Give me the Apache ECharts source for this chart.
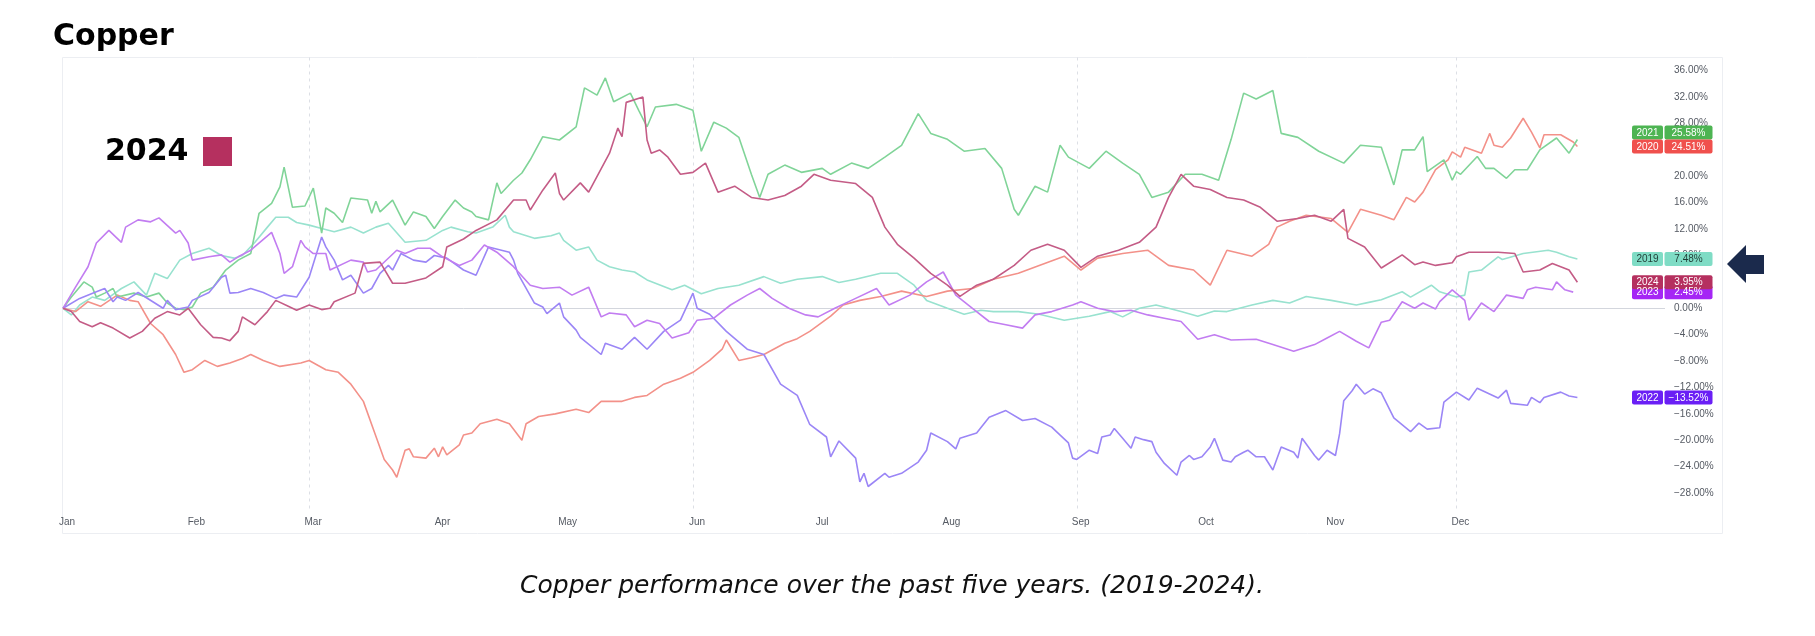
<!DOCTYPE html>
<html><head><meta charset="utf-8">
<script src="https://cdn.jsdelivr.net/npm/echarts@6/dist/echarts.min.js"></script>
<style>html,body{margin:0;padding:0;background:#fff;}#c{width:1815px;height:636px;}</style>
</head><body><div id="c"></div>
<script>
// ---------- DATA ----------
const months = ['Jan','Feb','Mar','Apr','May','Jun','Jul','Aug','Sep','Oct','Nov','Dec'];
const monthStartDays = [0,31,59,90,120,151,181,212,243,273,304,334];
const quarterLineDays = [59,151,243,334];
const years = ['2019','2020','2021','2022','2023','2024'];
// [day of year, % change since Jan 1]
const s2019 = [[0,0],[2,-1],[4,0.5],[7,1.7],[10,1.2],[14,3],[17,4],[20,2],[22,5.3],[25,4.5],[28,7.3],[31,8.3],[35,9.1],[38,8],[41,7.6],[43,8],[46,10],[49,12.3],[51,13.8],[54,13.8],[56,13],[59,12.6],[62,12.1],[65,11.6],[69,12.3],[72,11.4],[75,12.3],[78,12.9],[82,10],[87,10.3],[91,11.8],[93,12.3],[97,11.6],[99,11.4],[103,12.3],[106,14.1],[107,12.3],[108,11.6],[113,10.6],[117,11],[119,11.4],[120,10.3],[123,8.8],[126,9.3],[128,7.3],[131,6.3],[134,5.8],[137,5.5],[140,4.3],[142,3.8],[146,2.8],[149,3.5],[153,2.2],[157,3],[162,3.5],[168,4.8],[172,3.8],[176,4.4],[182,4.8],[186,3.9],[190,4.4],[196,5.3],[200,5.3],[204,3.5],[207,1.2],[212,0],[216,-0.9],[220,-0.3],[223,-0.5],[229,-0.5],[234,-0.9],[240,-1.8],[246,-1.2],[251,-0.5],[254,-1.3],[258,0],[262,0.5],[268,-0.5],[272,-1.2],[276,-0.4],[279,-0.5],[285,0.5],[290,1.2],[294,0.8],[298,1.8],[304,1.2],[310,0.5],[313,0.9],[316,1.3],[321,2.5],[323,1.7],[328,3.5],[330,2.5],[334,1.7],[336,2],[337,5.5],[340,5.8],[344,7.8],[345,7.4],[350,8.3],[356,8.8],[358,8.5],[361,7.8],[363,7.48]];
const s2020 = [[0,0],[3,-0.5],[6,1],[9,0.3],[13,2],[16,1.2],[18,1],[21,-2.3],[24,-4],[27,-7],[29,-9.7],[31,-9.3],[34,-7.9],[37,-8.8],[40,-8.3],[43,-7.6],[45,-7],[48,-7.9],[52,-8.8],[57,-8.3],[59,-7.9],[63,-9.3],[66,-9.7],[69,-11.5],[72,-14.1],[75,-19.4],[77,-22.9],[79,-24.5],[80,-25.6],[82,-21.5],[83,-21.3],[84,-22.5],[87,-22.7],[89,-21.2],[90,-22.5],[91,-21],[92,-22.2],[95,-20.7],[96,-19.2],[98,-18.9],[100,-17.5],[104,-16.8],[107,-17.5],[110,-20],[111,-17.5],[114,-16.4],[118,-16],[123,-15.3],[126,-15.8],[129,-14.1],[134,-14.1],[137,-13.5],[140,-13.2],[144,-11.5],[148,-10.6],[151,-9.7],[155,-7.9],[158,-6.2],[159,-4.8],[162,-7.9],[165,-7.5],[168,-7],[173,-5.3],[176,-4.6],[179,-3.5],[184,-1.2],[187,0.5],[191,1.2],[196,1.8],[201,2.6],[207,1.8],[212,2.6],[218,3],[223,4.4],[229,5.3],[234,6.5],[240,7.9],[244,5.8],[248,7.6],[254,8.3],[260,8.8],[265,6.5],[271,5.8],[275,3.5],[279,8.8],[285,7.9],[289,9.7],[291,12.3],[294,13.2],[298,14.1],[304,13.6],[308,11.5],[311,15],[316,14.1],[319,13.4],[322,16.8],[324,16.1],[326,17.6],[329,21],[332,22.5],[333,23.7],[335,22.9],[336,24.4],[340,23.5],[342,26.5],[343,24.7],[345,24.4],[347,25.8],[350,28.8],[352,26.7],[354,24.3],[355,26.3],[359,26.3],[362,25.2],[363,24.51]];
const s2021 = [[0,0],[2,1.7],[5,4],[7,3.2],[8,1.7],[10,2.3],[12,3],[13,1.7],[17,2.3],[20,1.7],[23,2.3],[25,0.8],[27,0],[29,-0.2],[31,0.2],[33,2.3],[36,3.2],[39,5.8],[42,7.3],[45,8.3],[47,14.4],[50,15.9],[52,18.4],[53,21.4],[55,15.3],[58,15.5],[60,18.2],[62,11.4],[63,15.2],[65,14.4],[67,13],[69,16.7],[73,16.4],[74,14.4],[75,16.2],[76,14.6],[79,16.4],[82,12.6],[84,14.6],[87,13.9],[89,12.1],[91,13.9],[94,16.4],[96,15.2],[98,14.6],[99,13.9],[102,13.4],[104,19],[105,17.4],[108,19.4],[110,20.5],[112,22.5],[115,26],[119,25.5],[123,27.5],[125,33.4],[128,32.3],[130,34.9],[132,31.3],[136,32.6],[138,30],[140,27.5],[142,30.5],[147,30.9],[151,30],[153,23.8],[156,28.2],[159,27.3],[162,25.9],[165,20.3],[167,16.8],[169,20.3],[173,21.7],[177,20.6],[182,21.2],[184,20.3],[189,22],[193,21.2],[197,22.9],[201,24.7],[205,29.5],[208,26.5],[212,25.6],[216,23.8],[221,24.2],[225,21.2],[228,15],[229,14.1],[233,18.5],[236,17.6],[239,24.7],[241,22.9],[246,21.2],[250,23.8],[254,22],[258,20.3],[261,16.8],[265,17.6],[269,20.3],[273,20.3],[277,19.4],[280,25.6],[283,32.6],[286,31.7],[290,33],[292,26.5],[296,25.9],[301,23.8],[307,22],[311,24.7],[316,24.4],[319,18.7],[321,24],[324,24],[326,26],[327,20.7],[331,22.5],[333,19.4],[334,20.7],[335,20.3],[339,23],[341,21.2],[343,21.2],[346,19.7],[348,21],[351,21],[354,24],[358,25.8],[361,23.5],[363,25.58]];
const s2022 = [[0,0],[4,1.5],[8,2.5],[10,3],[12,1],[13,1.7],[15,1.2],[18,2.4],[22,0.8],[24,0],[25,1.2],[27,-0.2],[30,0.2],[31,1.2],[35,2.4],[38,4.7],[39,5],[40,2.3],[42,2.4],[45,3],[48,2.4],[51,1.5],[53,2],[56,1.7],[59,4.7],[62,10.8],[63,9.3],[65,7.3],[67,4.3],[69,5],[72,2.3],[74,3],[76,5.3],[78,6.5],[79,5.8],[81,8.3],[84,7.3],[87,7],[89,8],[92,7.6],[96,5.8],[99,5],[102,9.3],[107,8.5],[108,7.3],[109,5.3],[113,0.8],[115,0.2],[116,-0.8],[119,0.8],[120,-1.3],[123,-3.3],[124,-4.4],[129,-7],[130,-5.3],[134,-6.2],[137,-4.4],[140,-6.2],[144,-3.5],[148,-1.8],[151,2.3],[152,0],[155,-0.9],[159,-3.5],[164,-6.2],[168,-7],[172,-11.5],[176,-13.2],[179,-17.6],[183,-19.5],[184,-22.5],[186,-20.1],[190,-22.7],[191,-26.3],[192,-25],[193,-27],[197,-25],[198,-25.6],[201,-25],[205,-23.3],[207,-21.5],[208,-18.9],[212,-20.2],[214,-21.3],[215,-19.7],[219,-18.9],[222,-16.5],[226,-15.5],[230,-17],[233,-16.7],[237,-18],[238,-18.6],[241,-20.4],[242,-22.7],[243,-22.9],[246,-21.5],[248,-22],[249,-19.5],[251,-19.2],[252,-18.2],[254,-19.7],[256,-21.2],[257,-19.5],[259,-19.9],[261,-20.2],[262,-21.8],[264,-23.5],[267,-25.3],[268,-23.3],[270,-22.3],[271,-22.9],[273,-22.5],[275,-21],[276,-19.7],[278,-23],[280,-23.3],[281,-22.5],[283,-21.8],[284,-21.5],[286,-22.5],[288,-22.5],[290,-24.5],[292,-21],[295,-21.8],[296,-22.7],[297,-19.7],[300,-22.3],[301,-23],[303,-21.5],[305,-22.3],[306,-19],[307,-14],[309,-12.5],[310,-11.5],[312,-13],[314,-12.2],[316,-12.8],[319,-16.6],[323,-18.7],[325,-17.4],[327,-18.3],[330,-18.1],[331,-14.2],[334,-12.7],[337,-13.9],[339,-12.1],[344,-13.6],[346,-12.4],[347,-14.4],[351,-14.7],[352,-13.5],[354,-14.3],[355,-13.5],[359,-12.7],[361,-13.3],[363,-13.52]];
const s2023 = [[0,0],[3,3.2],[6,6.3],[8,9.9],[11,11.8],[14,10],[15,12.3],[18,13.4],[21,13.1],[23,13.7],[27,11.4],[28,11.8],[30,9.9],[31,7.3],[35,7.8],[38,8.1],[40,7],[42,7.8],[45,8.8],[50,11.5],[52,8.3],[53,5.3],[55,6.3],[57,10.3],[58,9.3],[60,8.3],[63,8.3],[64,5.8],[69,7.3],[72,7],[73,5.5],[75,5.8],[80,8.8],[82,8.3],[85,9.1],[88,9.1],[91,7.8],[95,6.5],[98,7.3],[101,9.6],[104,8.5],[108,6.3],[112,3.5],[115,3],[119,3.2],[122,2],[126,3.2],[129,-1.3],[131,-0.7],[135,-1],[137,-2.8],[140,-1.8],[143,-2.3],[146,-4.5],[150,-3.7],[152,-1.8],[156,-1.5],[160,0.5],[164,2],[167,3],[170,1.5],[174,0],[178,-1],[181,-1.3],[185,0],[190,1.5],[195,3],[198,0.5],[203,2],[207,4],[211,5.5],[214,2],[218,0],[222,-2],[226,-2.5],[230,-3],[233,-1],[237,-0.5],[242,0.5],[244,1],[248,0],[252,-0.5],[256,-0.3],[260,-1],[264,-1.5],[268,-2],[272,-4.7],[276,-4],[280,-4.8],[286,-4.7],[290,-5.5],[295,-6.5],[300,-5.5],[303,-4.5],[306,-3.5],[310,-5],[313,-6],[316,-2.1],[318,-1.8],[321,1],[324,0],[326,0.8],[329,-0.1],[330,1],[333,2.8],[336,1.2],[337,-1.8],[340,0.8],[343,-0.5],[346,2],[350,1.5],[351,2.8],[353,3.2],[357,2.8],[358,4],[360,2.8],[362,2.45]];
const s2024 = [[0,0],[2,-0.5],[4,-2],[7,-2.8],[9,-2.2],[12,-3],[16,-4.5],[19,-3.5],[22,-1.5],[25,-0.5],[28,-1],[30,0],[33,-2.5],[36,-4.4],[38,-4.5],[40,-4.9],[42,-3.5],[43,-1.3],[46,-2.5],[49,-0.5],[51,1.2],[54,0.3],[56,-0.3],[59,0.5],[62,-0.2],[64,0],[65,1],[70,2.3],[72,6.8],[76,7],[79,3.8],[82,3.8],[87,4.6],[91,6.3],[92,9.3],[96,10.5],[99,11.8],[104,13.4],[108,16.4],[111,16.4],[112,14.9],[115,17.9],[118,20.5],[119,17.4],[120,16.4],[124,19],[126,17.6],[131,23.5],[133,27.3],[134,26],[135,31.2],[139,32],[140,25.5],[141,23.5],[143,24],[145,22.9],[148,20.3],[151,20.6],[154,22],[157,17.6],[161,18.5],[165,16.8],[169,16.4],[173,17.1],[177,18.5],[180,20.3],[184,19.4],[190,18.9],[194,16.8],[197,12.3],[200,9.7],[204,7.6],[208,5.3],[212,3.5],[215,1.8],[219,3.5],[223,4.4],[228,6.5],[232,8.8],[236,9.7],[240,8.8],[244,6.2],[248,7.9],[253,8.8],[258,10],[262,12.3],[265,16.8],[268,20.3],[271,18.5],[275,18],[279,16.8],[283,16.4],[287,15.3],[291,13.2],[296,13.6],[300,14.1],[304,13.2],[307,15],[308,10.6],[312,9.3],[316,6.1],[321,8.1],[324,6.6],[326,7],[329,6.5],[333,6.9],[334,7.8],[337,8.5],[344,8.5],[348,8.3],[350,5.5],[354,5.8],[357,6.8],[361,5.8],[363,3.95]];

// ---------- STYLE ----------
const dayCount = 385;
const days = Array.from({length: dayCount}, (_, i) => i);
const styles = {
  '2019': {line:'#98e2cf', tag:'#7fdcc5', fg:'#1f3b35', data:s2019},
  '2020': {line:'#f39189', tag:'#f0504d', fg:'#ffffff', data:s2020},
  '2021': {line:'#80d498', tag:'#4db452', fg:'#ffffff', data:s2021},
  '2022': {line:'#9b86f6', tag:'#6a1ff5', fg:'#ffffff', data:s2022},
  '2023': {line:'#c27df1', tag:'#a526f5', fg:'#ffffff', data:s2023},
  '2024': {line:'#c45c86', tag:'#b5305f', fg:'#ffffff', data:s2024}
};
const fmtPct = v => (v < 0 ? '\u2212' : '') + Math.abs(v).toFixed(2) + '%';

const chart = echarts.init(document.getElementById('c'));
const gridLine = {color:'#dcdfe5', type:[3,4], width:1};
const markData = [{yAxis:0, lineStyle:{color:'#d3d6dd', type:'solid', width:1}}]
  .concat(quarterLineDays.map(d => [{coord:[d, 38], lineStyle:gridLine}, {coord:[d, -30.5]}]));

const series = years.map((y, i) => ({
  name: y, type:'line', data: styles[y].data, showSymbol:false, symbol:'none',
  lineStyle:{width:1.6, color:styles[y].line}, itemStyle:{color:styles[y].line},
  z: 3 + i, silent:true,
  markLine: i === 0 ? {silent:true, symbol:['none','none'], label:{show:false}, data:markData, z:1} : undefined
}));

chart.setOption({
  animation:false,
  backgroundColor:'#ffffff',
  grid:{left:63, right:150, top:44.3, bottom:116.5},
  xAxis:{type:'category', data:days, boundaryGap:false,
    axisLine:{show:false}, axisTick:{show:false}, splitLine:{show:false},
    axisLabel:{interval:(idx) => monthStartDays.includes(idx),
      formatter:(v, idx) => { const k = monthStartDays.indexOf(idx); return k >= 0 ? months[k] : ''; },
      margin:-2, fontSize:10, color:'#555a63', fontFamily:'Liberation Sans', padding:[0,0,0,8]}},
  yAxis:{type:'value', position:'right', min:-32, max:40, interval:4,
    axisLine:{show:false}, axisTick:{show:false}, splitLine:{show:false},
    axisLabel:{margin:9, fontSize:10, color:'#555a63', fontFamily:'Liberation Sans',
      formatter: v => (v < -28 || v > 36) ? '' : fmtPct(v)}},
  series: series
});

// ---------- GRAPHICS ----------
const g = [];
g.push({type:'rect', silent:true, z:0, shape:{x:62.5, y:57.5, width:1660, height:476}, style:{fill:'none', stroke:'#eceef2', lineWidth:1}});
g.push({type:'text', silent:true, style:{x:53, y:37, text:'Copper', fill:'#000', font:'bold 30px "DejaVu Sans"', textAlign:'left', textVerticalAlign:'middle', verticalAlign:'middle'}});
g.push({type:'text', silent:true, style:{x:105, y:152, text:'2024', fill:'#000', font:'bold 30px "DejaVu Sans"', textAlign:'left', textVerticalAlign:'middle', verticalAlign:'middle'}});
g.push({type:'rect', silent:true, shape:{x:203, y:137, width:29, height:29}, style:{fill:styles['2024'].tag}});
g.push({type:'text', silent:true, style:{x:892, y:586, text:'Copper performance over the past five years. (2019-2024).', fill:'#111', font:'italic 25px "DejaVu Sans"', textAlign:'center', textVerticalAlign:'middle', verticalAlign:'middle'}});
// arrow
g.push({type:'polygon', silent:true, shape:{points:[[1727,264],[1746,245],[1746,255],[1764,255],[1764,274],[1746,274],[1746,283]]}, style:{fill:'#1b2a4c'}});

// tags at right
const tagNudge = {'2021': -7};
const tagOrder = ['2021','2020','2019','2023','2024','2022'];
tagOrder.forEach(y => {
  const d = styles[y].data; const last = d[d.length - 1][1];
  const yc = chart.convertToPixel({yAxisIndex:0}, last) + (tagNudge[y] || 0);
  const st = styles[y];
  g.push({type:'rect', silent:true, z:50, shape:{x:1632, y:yc-7, width:31, height:14, r:2}, style:{fill:st.tag}});
  g.push({type:'rect', silent:true, z:50, shape:{x:1664.5, y:yc-7, width:48, height:14, r:2}, style:{fill:st.tag}});
  g.push({type:'text', silent:true, z:51, style:{x:1647.5, y:yc+0.5, text:y, fill:st.fg, font:'10px "Liberation Sans"', textAlign:'center', textVerticalAlign:'middle', verticalAlign:'middle'}});
  g.push({type:'text', silent:true, z:51, style:{x:1688.5, y:yc+0.5, text:fmtPct(last), fill:st.fg, font:'10px "Liberation Sans"', textAlign:'center', textVerticalAlign:'middle', verticalAlign:'middle'}});
});
chart.setOption({graphic: g});
</script></body></html>
